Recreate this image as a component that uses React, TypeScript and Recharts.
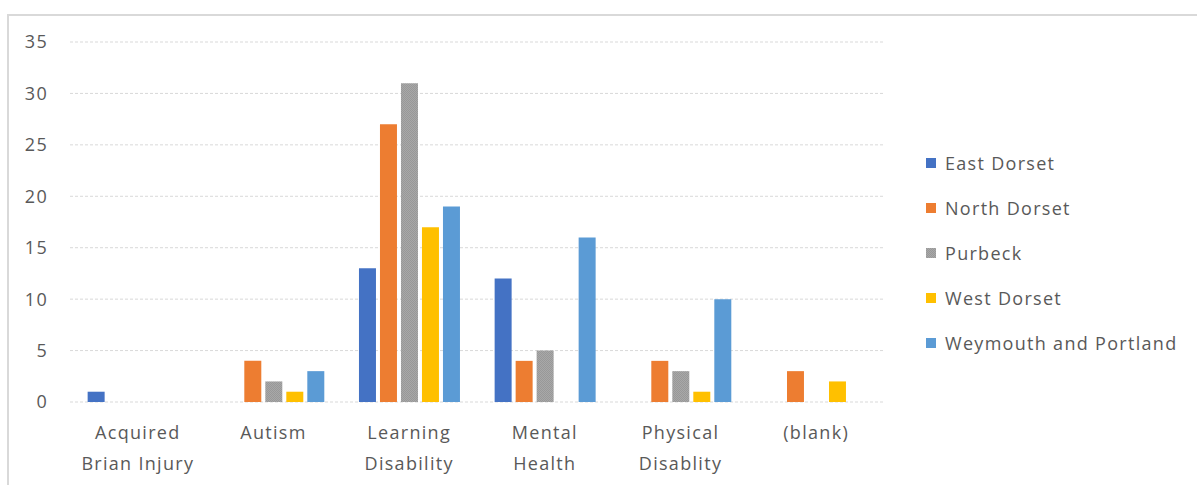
import { BarChart, Bar, XAxis, YAxis, CartesianGrid } from "recharts";

const CATEGORIES = [
  "Acquired\nBrian Injury",
  "Autism",
  "Learning\nDisability",
  "Mental\nHealth",
  "Physical\nDisablity",
  "(blank)",
];

const EAST_DORSET = [1, 0, 13, 12, 0, 0];
const NORTH_DORSET = [0, 4, 27, 4, 4, 3];
const PURBECK = [0, 2, 31, 5, 3, 0];
const WEST_DORSET = [0, 1, 17, 0, 1, 2];
const WEYMOUTH = [0, 3, 19, 16, 10, 0];

const Y_TICKS = [0, 5, 10, 15, 20, 25, 30, 35];

const SERIES = [
  { key: "East Dorset", values: EAST_DORSET, fill: "#4472c4" },
  { key: "North Dorset", values: NORTH_DORSET, fill: "#ed7d31" },
  { key: "Purbeck", values: PURBECK, fill: "url(#purbeckDots)" },
  { key: "West Dorset", values: WEST_DORSET, fill: "#ffc000" },
  { key: "Weymouth and Portland", values: WEYMOUTH, fill: "#5b9bd5" },
];

const data = CATEGORIES.map((name, i) => {
  const row: Record<string, string | number> = { name };
  SERIES.forEach((s) => {
    row[s.key] = s.values[i];
  });
  return row;
});

const FONT = "'Open Sans', 'Noto Sans', sans-serif";
const TEXT = "#595959";
const SPACING = 1.3;

const CategoryTick = ({ x, y, payload }: any) => {
  const lines = String(payload.value).split("\n");
  return (
    <text
      x={x}
      y={y}
      textAnchor="middle"
      fill={TEXT}
      fontSize={18}
      fontFamily={FONT}
      letterSpacing={SPACING}
    >
      {lines.map((line, i) => (
        <tspan key={i} x={x} dy={i === 0 ? 35 : 31}>
          {line}
        </tspan>
      ))}
    </text>
  );
};

// legend sits to the right of the plot, drawn as plain html
const SideLegend = () => (
  <div
    style={{
      position: "absolute",
      left: 926,
      top: 140,
      fontFamily: FONT,
      fontSize: 18,
      letterSpacing: SPACING,
      color: TEXT,
    }}
  >
    {SERIES.map((s) => (
      <div key={s.key} style={{ display: "flex", alignItems: "center", height: 45 }}>
        <svg width={10} height={10} style={{ marginRight: 9 }}>
          <rect width={10} height={10} fill={s.fill} />
        </svg>
        <span>{s.key}</span>
      </div>
    ))}
  </div>
);

export default function App() {
  return (
    <div
      style={{
        position: "fixed",
        left: 0,
        top: 0,
        width: 1197,
        height: 485,
        background: "#fff",
      }}
    >
      <div
        style={{
          position: "absolute",
          left: 7,
          top: 14,
          right: 0,
          bottom: 0,
          borderTop: "2px solid #d9d9d9",
          borderLeft: "2px solid #d9d9d9",
        }}
      />
      <BarChart
        width={1197}
        height={485}
        data={data}
        margin={{ top: 42, right: 313, bottom: 0, left: 8 }}
        barCategoryGap="13%"
        barGap={4}
      >
        <defs>
          <pattern id="purbeckDots" width={2} height={2} patternUnits="userSpaceOnUse">
            <rect width={2} height={2} fill="#a8a8a8" />
            <rect width={1} height={1} fill="#989898" />
            <rect x={1} y={1} width={1} height={1} fill="#989898" />
          </pattern>
        </defs>
        <CartesianGrid vertical={false} stroke="#d9d9d9" strokeDasharray="3 2" />
        <XAxis
          dataKey="name"
          axisLine={false}
          tickLine={false}
          tickSize={0}
          interval={0}
          height={83}
          tick={<CategoryTick />}
        />
        <YAxis
          width={62}
          domain={[0, 35]}
          ticks={Y_TICKS}
          interval={0}
          axisLine={false}
          tickLine={false}
          tickSize={0}
          tickMargin={22}
          tick={{ fontSize: 18, fill: TEXT, fontFamily: FONT, letterSpacing: SPACING }}
        />
        {SERIES.map((s) => (
          <Bar key={s.key} dataKey={s.key} fill={s.fill} isAnimationActive={false} />
        ))}
      </BarChart>
      <SideLegend />
    </div>
  );
}
